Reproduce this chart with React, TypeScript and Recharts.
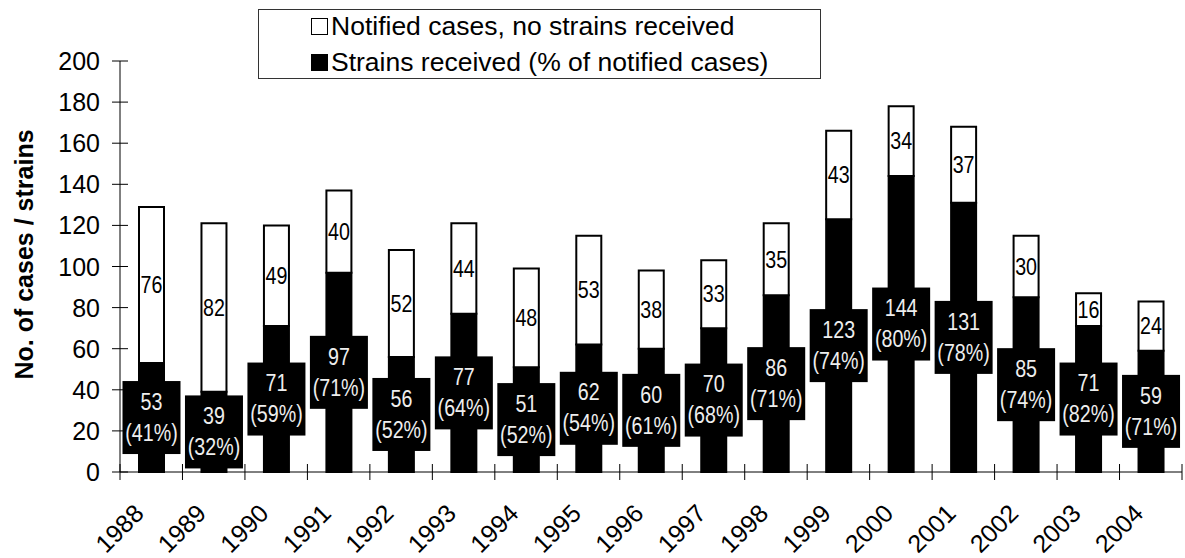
import { Bar, BarChart, Label, LabelList, Legend, XAxis, YAxis } from "recharts";

const years = [
  "1988", "1989", "1990", "1991", "1992", "1993", "1994", "1995", "1996",
  "1997", "1998", "1999", "2000", "2001", "2002", "2003", "2004",
];
const strainsReceived = [53, 39, 71, 97, 56, 77, 51, 62, 60, 70, 86, 123, 144, 131, 85, 71, 59];
const noStrains = [76, 82, 49, 40, 52, 44, 48, 53, 38, 33, 35, 43, 34, 37, 30, 16, 24];
const strainPct = [41, 32, 59, 71, 52, 64, 52, 54, 61, 68, 71, 74, 80, 78, 74, 82, 71];
const yTicks = [0, 20, 40, 60, 80, 100, 120, 140, 160, 180, 200];

const legendItems = [
  { label: "Notified cases, no strains received", fill: "#fff" },
  { label: "Strains received (% of notified cases)", fill: "#000" },
];

const data = years.map((year, i) => ({
  year,
  strains: strainsReceived[i],
  noStrains: noStrains[i],
}));

const WIDTH = 1185;
const HEIGHT = 558;
const AXIS_W = 120;
const RIGHT = 3;
const BAND = (WIDTH - AXIS_W - RIGHT) / years.length;

const FONT = '"Liberation Sans", Arial, sans-serif';
// no narrow face installed, so squeeze the regular one
const NARROW_SCALE = 0.82;

const YTick = ({ x, y, payload }: any) => (
  <g>
    <line x1={x - 8} x2={x + 8} y1={y} y2={y} stroke="#000" />
    <text
      x={x - 20}
      y={y}
      textAnchor="end"
      dominantBaseline="central"
      fontFamily={FONT}
      fontSize={25}
      fill="#000"
    >
      {payload.value}
    </text>
  </g>
);

const XTick = ({ x, y, payload, index }: any) => {
  const tx = x - 6;
  const ty = y + 43;
  return (
    <g>
      <line x1={x - BAND / 2} x2={x - BAND / 2} y1={y - 8} y2={y + 8} stroke="#000" />
      {index === years.length - 1 && (
        <line x1={x + BAND / 2} x2={x + BAND / 2} y1={y - 8} y2={y + 8} stroke="#000" />
      )}
      <text
        x={tx}
        y={ty}
        textAnchor="end"
        transform={`rotate(-45 ${tx} ${ty})`}
        fontFamily={FONT}
        fontSize={25}
        fill="#000"
      >
        {payload.value}
      </text>
    </g>
  );
};

const boxOf = (props: any) => {
  const vb = props.viewBox ?? props;
  return { x: vb.x, y: vb.y, width: vb.width, height: vb.height };
};

const NarrowText = ({ cx, cy, fill, children }: any) => (
  <text
    transform={`translate(${cx} ${cy}) scale(${NARROW_SCALE} 1)`}
    x={0}
    y={0}
    textAnchor="middle"
    dominantBaseline="central"
    fill={fill}
    fontFamily={FONT}
    fontSize={24}
  >
    {children}
  </text>
);

// black box with count and share, centred on the received segment
const StrainLabel = (props: any) => {
  const { x, y, width, height } = boxOf(props);
  const i = props.index;
  const cx = x + width / 2;
  const cy = y + height / 2;
  return (
    <g>
      <rect x={cx - 29} y={cy - 36.5} width={58} height={73} fill="#000" />
      <NarrowText cx={cx} cy={cy - 16} fill="#eee">
        {strainsReceived[i]}
      </NarrowText>
      <NarrowText cx={cx} cy={cy + 15} fill="#eee">
        ({strainPct[i]}%)
      </NarrowText>
    </g>
  );
};

const NoStrainLabel = (props: any) => {
  const { x, y, width, height } = boxOf(props);
  return (
    <NarrowText cx={x + width / 2} cy={y + height / 2} fill="#000">
      {noStrains[props.index]}
    </NarrowText>
  );
};

const LegendBox = () => (
  <div
    style={{
      width: 563,
      height: 70,
      border: "1px solid #333",
      boxSizing: "border-box",
      position: "relative",
      background: "#fff",
      fontFamily: FONT,
      fontSize: 26.5,
      color: "#000",
    }}
  >
    {legendItems.map((item, i) => (
      <div
        key={item.label}
        style={{
          position: "absolute",
          left: 52,
          top: 8 + i * 36,
          height: 17,
          display: "flex",
          alignItems: "center",
          whiteSpace: "nowrap",
          lineHeight: 1,
        }}
      >
        <span
          style={{
            display: "inline-block",
            width: 17,
            height: 17,
            border: "1.5px solid #000",
            boxSizing: "border-box",
            background: item.fill,
            marginRight: 3,
          }}
        />
        <span>{item.label}</span>
      </div>
    ))}
  </div>
);

const YTitle = ({ viewBox }: any) => {
  const x = viewBox.x + 24;
  const y = viewBox.y + viewBox.height / 2 - 12;
  return (
    <text
      x={x}
      y={y}
      textAnchor="middle"
      dominantBaseline="central"
      transform={`rotate(-90 ${x} ${y})`}
      fontFamily={FONT}
      fontWeight="bold"
      fontSize={25}
      fill="#000"
    >
      No. of cases / strains
    </text>
  );
};

export default function App() {
  return (
    <div style={{ position: "absolute", left: 0, top: 0, background: "#fff" }}>
      <BarChart
        width={WIDTH}
        height={HEIGHT}
        data={data}
        margin={{ top: 61, right: RIGHT, bottom: 0, left: 0 }}
      >
        <XAxis
          dataKey="year"
          height={86}
          tickLine={false}
          tickSize={0}
          tickMargin={0}
          axisLine={{ stroke: "#000" }}
          tick={<XTick />}
          interval={0}
        />
        <YAxis
          width={AXIS_W}
          domain={[0, 200]}
          ticks={yTicks}
          tickLine={false}
          tickSize={0}
          tickMargin={0}
          axisLine={{ stroke: "#000" }}
          tick={<YTick />}
          interval={0}
        >
          <Label content={<YTitle />} />
        </YAxis>
        <Legend
          layout="vertical"
          align="center"
          verticalAlign="middle"
          content={<LegendBox />}
          wrapperStyle={{ left: 258, top: 9, width: 563, height: 70 }}
        />
        <Bar
          dataKey="strains"
          stackId="a"
          fill="#000"
          stroke="#000"
          strokeWidth={2}
          barSize={25}
          isAnimationActive={false}
        >
          <LabelList content={<StrainLabel />} />
        </Bar>
        <Bar
          dataKey="noStrains"
          stackId="a"
          fill="#fff"
          stroke="#000"
          strokeWidth={2}
          barSize={25}
          isAnimationActive={false}
        >
          <LabelList content={<NoStrainLabel />} />
        </Bar>
      </BarChart>
    </div>
  );
}
